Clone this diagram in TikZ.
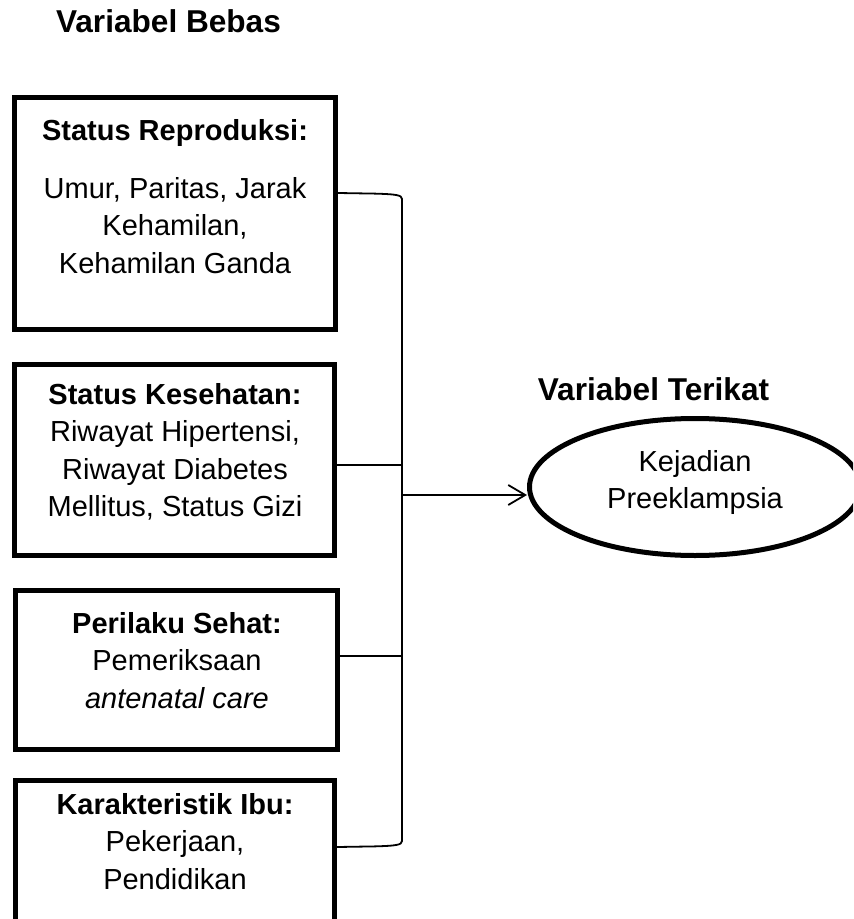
\documentclass[tikz,border=0pt]{standalone}
\usepackage{fontspec}
\setmainfont{Liberation Sans}
\usetikzlibrary{arrows.meta,shapes.geometric}
\begin{document}
\begin{tikzpicture}[x=0.5pt,y=-0.5pt,
  boxs/.style={draw,line width=2.5pt,rectangle,inner sep=0pt},
  txt/.style={align=center,inner sep=0pt,font=\fontsize{14.5pt}{18.75pt}\selectfont},
  head/.style={inner sep=0pt,font=\fontsize{15.8pt}{19pt}\selectfont\bfseries},
  conn/.style={line width=0.9pt},
  ell/.style={draw,ellipse,line width=2.5pt,minimum width=165.5pt,minimum height=68.5pt,inner sep=0pt}]
\useasboundingbox (0,0) rectangle (853,919);
\clip (0,0) rectangle (853,919);

% headings
\node[head,anchor=base] (hb) at (168.5,33) {Variabel Bebas};
\node[head,anchor=base] (ht) at (653.5,400) {Variabel Terikat};

% boxes
\node[boxs,minimum width=160.5pt,minimum height=116pt] (b1) at (175,213.5) {};
\node[boxs,minimum width=160pt,minimum height=95.5pt] (b2) at (174.5,460) {};
\node[boxs,minimum width=160.85pt,minimum height=79.5pt] (b3) at (176.6,670) {};
\node[boxs,minimum width=159.75pt,minimum height=79.75pt] (b4) at (174.75,860.25) {};

% box texts
\node[txt,anchor=north] (t1) at (175,119) {\textbf{Status Reproduksi:}\\[10.25pt] Umur, Paritas, Jarak\\ Kehamilan,\\ Kehamilan Ganda};
\node[txt,anchor=north] (t2) at (175,383) {\textbf{Status Kesehatan:}\\ Riwayat Hipertensi,\\ Riwayat Diabetes\\ Mellitus, Status Gizi};
\node[txt,anchor=north] (t3) at (177,612) {\textbf{Perilaku Sehat:}\\ Pemeriksaan\\ \textit{antenatal care}};
\node[txt,anchor=north] (t4) at (175,793) {\textbf{Karakteristik Ibu:}\\ Pekerjaan,\\ Pendidikan};

% dependent variable
\node[ell] (e) at (695,487) {};
\node[txt] (et) at (695,482.5) {Kejadian\\ Preeklampsia};

% bracket connectors
\coordinate (bt) at (402,193);
\coordinate (bb) at (402,847);
\coordinate (m2) at (402,465);
\coordinate (m3) at (402,656);
\coordinate (ma) at (402,495);

\draw[conn] (b1.east |- bt) -- ([xshift=-14pt,yshift=-0.3pt]bt)
  .. controls ([xshift=-3pt,yshift=-0.6pt]bt) and ([yshift=-1pt]bt) .. ([yshift=-3pt]bt)
  -- ([yshift=3pt]bb) .. controls ([yshift=1pt]bb) and ([xshift=-3pt,yshift=0.6pt]bb) .. ([xshift=-14pt,yshift=0.3pt]bb)
  -- (b4.east |- bb);
\draw[conn] (b2.east |- m2) -- (m2);
\draw[conn] (b3.east |- m3) -- (m3);
\draw[conn,-{Straight Barb[length=8.5pt,width=10pt]}] (ma) -- (ma -| e.west);
\end{tikzpicture}
\end{document}
